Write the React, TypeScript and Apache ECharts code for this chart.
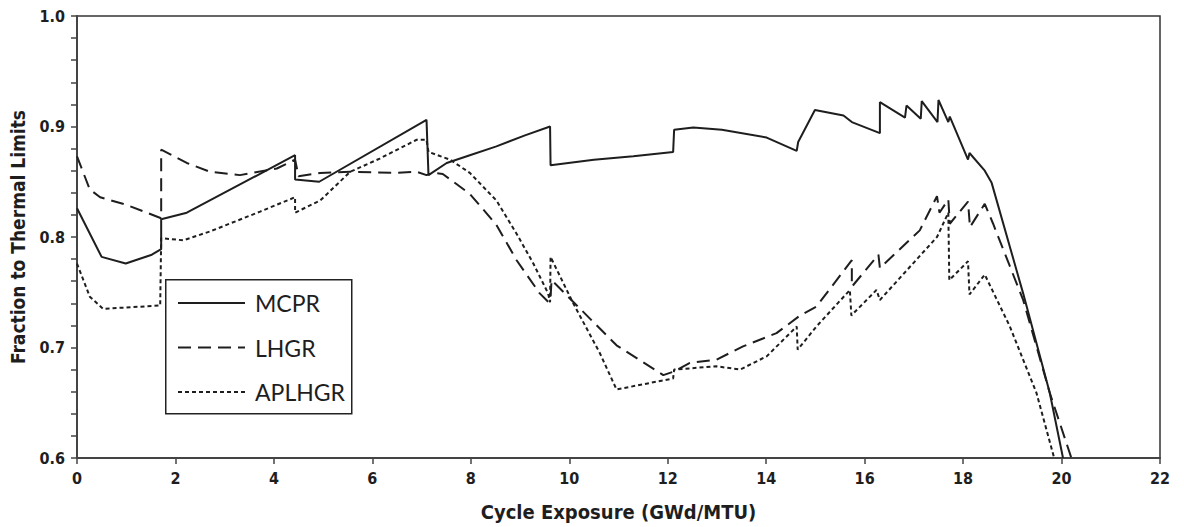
import React, { useEffect, useRef } from "react";
import * as echarts from "echarts";

const xTicks = [0, 2, 4, 6, 8, 10, 12, 14, 16, 18, 20, 22];

const mcprX = [0, 0.5, 0.99, 1.52, 1.71, 1.71, 2.23, 4.43, 4.43, 4.92, 7.1, 7.14, 7.51, 7.98, 8.52, 9.1, 9.61, 9.62, 10.5, 11.3, 12.11, 12.13, 12.52, 13.1, 14.01, 14.62, 14.65, 14.99, 15.57, 15.74, 16.31, 16.31, 16.82, 16.85, 17.14, 17.16, 17.48, 17.5, 17.7, 17.73, 18.1, 18.13, 18.44, 18.58, 19.22, 19.76, 20.03];
const mcprY = [0.826, 0.782, 0.776, 0.784, 0.789, 0.816, 0.822, 0.874, 0.852, 0.85, 0.906, 0.856, 0.867, 0.874, 0.882, 0.892, 0.9, 0.865, 0.87, 0.873, 0.877, 0.897, 0.899, 0.897, 0.89, 0.878, 0.886, 0.915, 0.91, 0.904, 0.894, 0.922, 0.908, 0.919, 0.907, 0.923, 0.904, 0.924, 0.904, 0.909, 0.87, 0.876, 0.86, 0.849, 0.749, 0.659, 0.6];

const lhgrX = [0, 0.26, 0.47, 1.01, 1.71, 1.71, 2.23, 2.7, 3.31, 4.06, 4.43, 4.5, 4.94, 5.55, 6.43, 6.9, 7.1, 7.24, 7.43, 7.98, 8.52, 8.93, 9.4, 9.58, 9.62, 9.64, 10.96, 11.91, 12.11, 12.45, 12.99, 13.53, 14.21, 14.69, 15.02, 15.74, 15.74, 16.28, 16.31, 17.12, 17.47, 17.52, 17.7, 17.73, 18.1, 18.14, 18.44, 18.61, 19.22, 19.76, 20.2];
const lhgrY = [0.873, 0.843, 0.836, 0.829, 0.817, 0.879, 0.867, 0.859, 0.856, 0.862, 0.87, 0.855, 0.858, 0.859, 0.858, 0.859, 0.856, 0.858, 0.857, 0.839, 0.811, 0.779, 0.749, 0.741, 0.745, 0.761, 0.702, 0.675, 0.678, 0.686, 0.689, 0.701, 0.713, 0.729, 0.737, 0.779, 0.755, 0.784, 0.772, 0.806, 0.837, 0.822, 0.834, 0.812, 0.832, 0.809, 0.83, 0.812, 0.743, 0.659, 0.6];

const aplhgrX = [0, 0.26, 0.53, 1.69, 1.71, 2.16, 2.7, 3.72, 4.43, 4.43, 4.94, 5.55, 6.15, 6.9, 7.1, 7.14, 7.58, 7.98, 8.52, 8.93, 9.27, 9.57, 9.61, 9.62, 10.08, 10.62, 10.96, 12.11, 12.13, 12.99, 13.47, 14.01, 14.62, 14.64, 15.02, 15.7, 15.73, 16.24, 16.31, 17.47, 17.7, 17.72, 18.1, 18.13, 18.44, 18.95, 19.49, 19.85];
const aplhgrY = [0.776, 0.746, 0.735, 0.738, 0.799, 0.797, 0.805, 0.823, 0.836, 0.822, 0.833, 0.859, 0.871, 0.888, 0.888, 0.877, 0.87, 0.858, 0.833, 0.803, 0.776, 0.749, 0.741, 0.782, 0.74, 0.695, 0.662, 0.672, 0.68, 0.683, 0.68, 0.692, 0.719, 0.698, 0.719, 0.752, 0.729, 0.752, 0.743, 0.8, 0.822, 0.761, 0.778, 0.748, 0.766, 0.719, 0.659, 0.6];

const seriesNames = ["MCPR", "LHGR", "APLHGR"];
const dashes: (number[] | null)[] = [null, [13, 7], [4, 3]];

const pairs = (xs: number[], ys: number[]) => xs.map((x, i) => [x, ys[i]]);

const AXIS_FONT = "'Liberation Sans Narrow', 'DejaVu Sans Condensed', 'Liberation Sans', sans-serif";
const INK = "#1e1e1e";

export default function App() {
  const ref = useRef<HTMLDivElement>(null);
  useEffect(() => {
    if (!ref.current) return;
    const chart = echarts.init(ref.current, undefined, { renderer: "svg" });
    const lineBase = { type: "line", symbol: "none", showSymbol: false, smooth: false, clip: true };
    const legendGraphics: any[] = [
      { type: "rect", left: 165, top: 279, shape: { x: 0, y: 0, width: 186, height: 134 }, style: { fill: "#fff", stroke: "#222", lineWidth: 1.5 }, z: 100 },
    ];
    seriesNames.forEach((name, i) => {
      const cy = 303 + i * 44.5;
      legendGraphics.push({
        type: "line",
        shape: { x1: 178, y1: cy, x2: 245, y2: cy },
        style: { stroke: INK, lineWidth: 2, lineDash: dashes[i] || undefined },
        z: 101,
      });
      legendGraphics.push({
        type: "text",
        x: 255,
        y: cy,
        style: { text: name, fontFamily: "Lato, 'Open Sans', sans-serif", fontSize: 23, fill: INK, verticalAlign: "middle", align: "left" },
        z: 101,
      });
    });
    chart.setOption({
      animation: false,
      backgroundColor: "#ffffff",
      grid: { left: 77, right: 24, top: 16, bottom: 69, show: true, borderColor: "#333", borderWidth: 1.5, backgroundColor: "transparent" },
      xAxis: {
        type: "value",
        min: 0,
        max: 22,
        interval: 2,
        name: "Cycle Exposure (GWd/MTU)",
        nameLocation: "middle",
        nameGap: 44,
        nameTextStyle: { fontFamily: AXIS_FONT, fontWeight: "bold", fontSize: 20, color: INK },
        axisLine: { show: true, lineStyle: { color: "#444", width: 2 } },
        axisTick: { show: true, length: 6, lineStyle: { color: "#444", width: 1.5 } },
        axisLabel: { fontFamily: AXIS_FONT, fontWeight: "bold", fontSize: 16, color: INK, margin: 12, formatter: (v: number) => (xTicks.includes(v) ? String(v) : "") },
        splitLine: { show: false },
      },
      yAxis: {
        type: "value",
        min: 0.6,
        max: 1.0,
        interval: 0.1,
        name: "Fraction to Thermal Limits",
        nameLocation: "middle",
        nameGap: 50,
        nameTextStyle: { fontFamily: AXIS_FONT, fontWeight: "bold", fontSize: 19, color: INK },
        axisLine: { show: true, lineStyle: { color: "#444", width: 2 } },
        axisTick: { show: true, length: 6, lineStyle: { color: "#444", width: 1.5 } },
        minorTick: { show: true, splitNumber: 5, length: 6, lineStyle: { color: "#444", width: 1.5 } },
        axisLabel: { fontFamily: AXIS_FONT, fontWeight: "bold", fontSize: 16, color: INK, margin: 12, formatter: (v: number) => v.toFixed(1) },
        splitLine: { show: false },
        minorSplitLine: { show: false },
      },
      legend: { show: false },
      graphic: legendGraphics,
      series: [
        { ...lineBase, name: "MCPR", data: pairs(mcprX, mcprY), lineStyle: { color: INK, width: 2, type: "solid" }, itemStyle: { color: INK } },
        { ...lineBase, name: "LHGR", data: pairs(lhgrX, lhgrY), lineStyle: { color: INK, width: 2, type: dashes[1] }, itemStyle: { color: INK } },
        { ...lineBase, name: "APLHGR", data: pairs(aplhgrX, aplhgrY), lineStyle: { color: INK, width: 2, type: dashes[2] }, itemStyle: { color: INK } },
      ],
    });
    return () => chart.dispose();
  }, []);
  return <div ref={ref} style={{ width: 1184, height: 527, position: "absolute", left: 0, top: 0 }} />;
}
